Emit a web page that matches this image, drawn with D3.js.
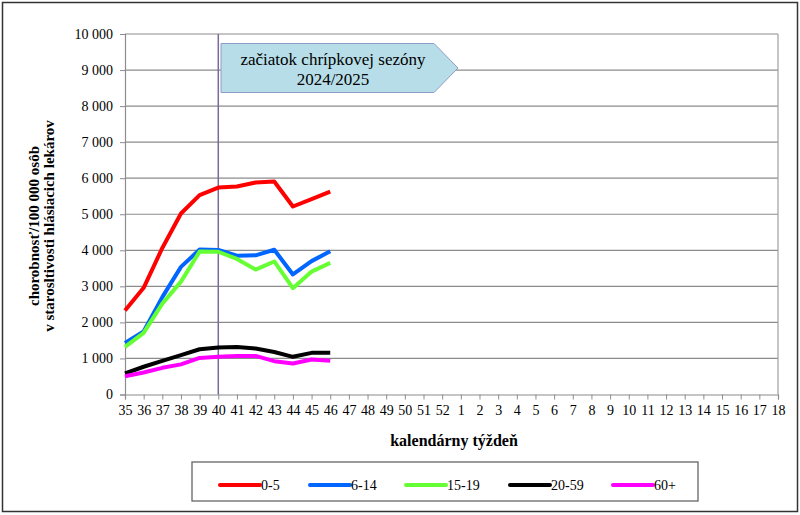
<!DOCTYPE html>
<html>
<head>
<meta charset="utf-8">
<script src="https://cdn.jsdelivr.net/npm/d3@7"></script>
</head>
<body style="margin:0">
<svg id="chart" width="800" height="515"></svg>
<script>
// ---- data ----
const weeks = ["35","36","37","38","39","40","41","42","43","44","45","46","47","48","49","50","51","52",
               "1","2","3","4","5","6","7","8","9","10","11","12","13","14","15","16","17","18"];
const observedWeeks = ["35","36","37","38","39","40","41","42","43","44","45","46"];
const seriesNames = ["0-5", "6-14", "15-19", "20-59", "60+"];
const values_0_5   = [2330, 2960, 4065, 5020, 5530, 5740, 5770, 5880, 5910, 5215, 5420, 5630];
const values_6_14  = [1430, 1750, 2700, 3540, 4020, 4010, 3850, 3860, 4015, 3330, 3700, 3975];
const values_15_19 = [1320, 1710, 2520, 3130, 3965, 3960, 3760, 3465, 3690, 2950, 3410, 3650];
const values_20_59 = [585, 770, 935, 1090, 1255, 1305, 1320, 1275, 1180, 1045, 1155, 1155];
const values_60    = [505, 610, 740, 835, 1015, 1045, 1070, 1070, 925, 860, 970, 935];
const seriesColors = ["#ff0000", "#0066ff", "#66ff33", "#000000", "#ff00ff"];
const yTicks = [0,1000,2000,3000,4000,5000,6000,7000,8000,9000,10000];
const seasonStartWeek = "40";
const annotationLines = ["začiatok chrípkovej sezóny", "2024/2025"];
const yTitleLines = ["chorobnosť/100 000 osôb", "v starosltivosti hlásiacich lekárov"];
const xTitle = "kalendárny týždeň";

const allValues = [values_0_5, values_6_14, values_15_19, values_20_59, values_60];
const SERIF = '"Liberation Serif"';

// ---- layout ----
const svg = d3.select("#chart");
const L = 125, R = 778, T = 34, B = 394.5;

const x = d3.scalePoint().domain(weeks).range([L, R]);
const y = d3.scaleLinear().domain([0, 10000]).range([B, T]);

// outer border
svg.append("rect").attr("x", 2.5).attr("y", 2.5).attr("width", 795).attr("height", 509)
  .attr("fill", "#fff").attr("stroke", "#333").attr("stroke-width", 1.5);

// gridlines
svg.append("g").selectAll("line").data(yTicks.filter(d => d > 0)).join("line")
  .attr("x1", L).attr("x2", R)
  .attr("y1", d => y(d)).attr("y2", d => y(d))
  .attr("stroke", "#8c8c8c").attr("stroke-width", 1.2);

// right plot border
svg.append("line").attr("x1", R).attr("x2", R).attr("y1", T).attr("y2", B)
  .attr("stroke", "#a0a0a0").attr("stroke-width", 1.2);

// y axis
const fmt = d => d === 0 ? "0" : d3.format(",")(d).replace(/,/g, " ");
const yAxis = d3.axisLeft(y).tickValues(yTicks).tickFormat(fmt).tickSize(5).tickPadding(7);
const gy = svg.append("g").attr("transform", `translate(${L},0)`).call(yAxis);
gy.select(".domain").attr("stroke", "#8c8c8c").attr("stroke-width", 1.2);
gy.selectAll(".tick line").attr("stroke", "#8c8c8c");
gy.selectAll(".tick text").attr("font-family", SERIF).attr("font-size", 14);

// x axis
const xAxis = d3.axisBottom(x).tickSize(5).tickPadding(6);
const gx = svg.append("g").attr("transform", `translate(0,${B})`).call(xAxis);
gx.select(".domain").attr("stroke", "#8c8c8c").attr("stroke-width", 1.2);
gx.selectAll(".tick line").attr("stroke", "#8c8c8c");
gx.selectAll(".tick text").attr("font-family", SERIF).attr("font-size", 14);

// season start line
svg.append("line")
  .attr("x1", x(seasonStartWeek)).attr("x2", x(seasonStartWeek))
  .attr("y1", T).attr("y2", B)
  .attr("stroke", "#7b6a9b").attr("stroke-width", 1.5);

// series lines
const line = d3.line().x((d, i) => x(observedWeeks[i])).y(d => y(d));
allValues.forEach((vals, k) => {
  svg.append("path").datum(vals)
    .attr("d", line)
    .attr("fill", "none")
    .attr("stroke", seriesColors[k])
    .attr("stroke-width", 4)
    .attr("stroke-linejoin", "round")
    .attr("stroke-linecap", "butt");
});

// annotation arrow box
const ax0 = 221, ax1 = 434, axTip = 458, ay0 = 43.5, ay1 = 92.5;
svg.append("path")
  .attr("d", `M${ax0},${ay0} L${ax1},${ay0} L${axTip},${(ay0+ay1)/2} L${ax1},${ay1} L${ax0},${ay1} Z`)
  .attr("fill", "#b7dee8").attr("stroke", "#8f9cc6").attr("stroke-width", 1);
svg.append("text").attr("x", 333).attr("y", 65).attr("text-anchor", "middle")
  .attr("font-family", SERIF).attr("font-size", 17).text(annotationLines[0]);
svg.append("text").attr("x", 333).attr("y", 84.5).attr("text-anchor", "middle")
  .attr("font-family", SERIF).attr("font-size", 17).text(annotationLines[1]);

// y title
svg.append("text")
  .attr("transform", `translate(39,226) rotate(-90)`)
  .attr("text-anchor", "middle")
  .attr("font-family", SERIF).attr("font-size", 15).attr("font-weight", "bold")
  .text(yTitleLines[0]);
svg.append("text")
  .attr("transform", `translate(54,226) rotate(-90)`)
  .attr("text-anchor", "middle")
  .attr("font-family", SERIF).attr("font-size", 15).attr("font-weight", "bold")
  .text(yTitleLines[1]);

// x title
svg.append("text").attr("x", 454).attr("y", 446).attr("text-anchor", "middle")
  .attr("font-family", SERIF).attr("font-size", 16).attr("font-weight", "bold").text(xTitle);

// legend
svg.append("rect").attr("x", 192).attr("y", 462).attr("width", 506).attr("height", 39)
  .attr("fill", "#fff").attr("stroke", "#666").attr("stroke-width", 1.3);
const legendX = [220, 310, 406, 510, 613];
const legendY = 485;
seriesNames.forEach((name, k) => {
  svg.append("line").attr("x1", legendX[k]).attr("x2", legendX[k] + 40)
    .attr("y1", legendY).attr("y2", legendY)
    .attr("stroke", seriesColors[k]).attr("stroke-width", 4).attr("stroke-linecap", "round");
  svg.append("text").attr("x", legendX[k] + 41).attr("y", legendY + 5)
    .attr("font-family", SERIF).attr("font-size", 14).text(name);
});
</script>
</body>
</html>
